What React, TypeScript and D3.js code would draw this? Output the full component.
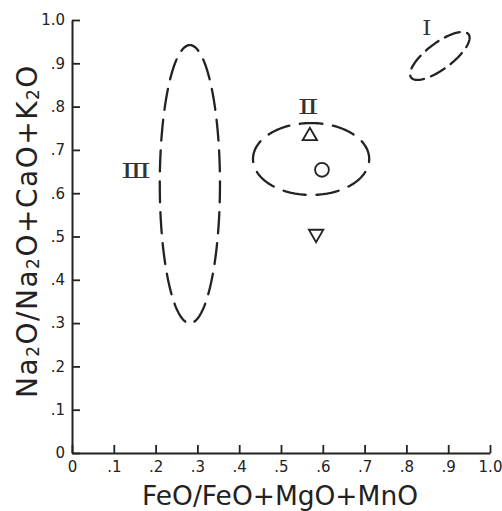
import React, { useEffect, useRef } from 'react';
import * as d3 from 'd3';

// axis ticks
const xTicks = [0, 0.1, 0.2, 0.3, 0.4, 0.5, 0.6, 0.7, 0.8, 0.9, 1.0];
const xTickLabels = ['0', '.1', '.2', '.3', '.4', '.5', '.6', '.7', '.8', '.9', '1.0'];
const yTicks = [0, 0.1, 0.2, 0.3, 0.4, 0.5, 0.6, 0.7, 0.8, 0.9, 1.0];
const yTickLabels = ['0', '.1', '.2', '.3', '.4', '.5', '.6', '.7', '.8', '.9', '1.0'];

// fields (dashed ellipses), data units
const fieldNames = ['Ⅰ', 'Ⅱ', 'Ⅲ'];
const fieldCx = [0.880, 0.572, 0.282];
const fieldCy = [0.917, 0.679, 0.621];
const fieldRx = [0.086, 0.139, 0.072];
const fieldRy = [0.030, 0.083, 0.321];
const fieldAngle = [-37, 0, 0];
const fieldLabelX = [0.849, 0.565, 0.153];
const fieldLabelY = [0.982, 0.799, 0.651];

// single analyses
const pointX = [0.569, 0.598, 0.584];
const pointY = [0.732, 0.654, 0.506];
const pointShape = ['up', 'circle', 'down'];

const W = 502, H = 511;

const App = () => {
  const ref = useRef(null);

  useEffect(() => {
    const svg = d3.select(ref.current);
    svg.selectAll('*').remove();

    const x = d3.scaleLinear().domain([0, 1]).range([72, 490]);
    const y = d3.scaleLinear().domain([0, 1]).range([453, 20]);
    const font = 'DejaVu Sans, sans-serif';

    // x axis
    const gx = svg.append('g')
      .attr('transform', 'translate(0,' + y(0) + ')')
      .call(d3.axisBottom(x).tickValues(xTicks)
        .tickFormat((d, i) => xTickLabels[i])
        .tickSizeInner(-8).tickSizeOuter(0).tickPadding(8));

    // y axis
    const gy = svg.append('g')
      .attr('transform', 'translate(' + x(0) + ',0)')
      .call(d3.axisLeft(y).tickValues(yTicks)
        .tickFormat((d, i) => yTickLabels[i])
        .tickSizeInner(-8).tickSizeOuter(0).tickPadding(7));

    [gx, gy].forEach(g => {
      g.select('.domain').attr('stroke', '#222').attr('stroke-width', 2);
      g.selectAll('.tick line').attr('stroke', '#222').attr('stroke-width', 1.8);
      g.selectAll('.tick text').attr('fill', '#222')
        .style('font-family', font).style('font-size', '15px');
    });

    // dashed fields: whole number of dash periods, odd so the bottom falls in a gap
    const periods = [7, 9, 19];
    const labelLen = [9, 21, 30];
    fieldNames.forEach((name, i) => {
      const cx = x(fieldCx[i]), cy = y(fieldCy[i]);
      const a = x(fieldRx[i]) - x(0), b = y(0) - y(fieldRy[i]);
      const r = fieldAngle[i] * Math.PI / 180;
      const pts = d3.range(0, 361, 2).map(deg => {
        const t = -Math.PI / 2 + deg * Math.PI / 180;
        const ex = a * Math.cos(t), ey = b * Math.sin(t);
        return [cx + ex * Math.cos(r) - ey * Math.sin(r), cy + ex * Math.sin(r) + ey * Math.cos(r)];
      });
      const p = svg.append('path')
        .attr('d', d3.line()(pts))
        .attr('fill', 'none')
        .attr('stroke', '#222')
        .attr('stroke-width', 2.3)
        .attr('stroke-linecap', 'round');
      const L = p.node().getTotalLength();
      const per = L / periods[i];
      const dl = per * 0.68;
      p.attr('stroke-dasharray', dl + ' ' + (per - dl))
        .attr('stroke-dashoffset', dl / 2);

      svg.append('text')
        .attr('x', x(fieldLabelX[i]))
        .attr('y', y(fieldLabelY[i]))
        .attr('text-anchor', 'middle')
        .attr('dominant-baseline', 'central')
        .attr('fill', '#333')
        .attr('textLength', labelLen[i])
        .attr('lengthAdjust', 'spacingAndGlyphs')
        .style('font-family', 'DejaVu Serif, serif')
        .style('font-size', '21px')
        .text(name);
    });

    // point symbols
    pointShape.forEach((s, i) => {
      const sym = s === 'circle'
        ? d3.symbol(d3.symbolCircle, 150)
        : d3.symbol(d3.symbolTriangle, 90);
      svg.append('path')
        .attr('d', sym())
        .attr('transform', 'translate(' + x(pointX[i]) + ',' + y(pointY[i]) + ')' + (s === 'down' ? ' rotate(180)' : ''))
        .attr('fill', 'none')
        .attr('stroke', '#222')
        .attr('stroke-width', 1.8);
    });

    // axis titles
    svg.append('text')
      .attr('x', 280).attr('y', 505)
      .attr('text-anchor', 'middle')
      .attr('fill', '#222')
      .attr('textLength', 276)
      .attr('lengthAdjust', 'spacingAndGlyphs')
      .style('font-family', font).style('font-size', '27px')
      .text('FeO/FeO+MgO+MnO');

    const yt = svg.append('text')
      .attr('transform', 'translate(37,231) rotate(-90)')
      .attr('text-anchor', 'middle')
      .attr('fill', '#222')
      .style('font-family', font).style('font-size', '28px')
      .style('letter-spacing', '1.5px');
    const parts = [['Na', 0], ['2', 1], ['O/Na', 0], ['2', 1], ['O+CaO+K', 0], ['2', 1], ['O', 0]];
    parts.forEach(([t, sub], k) => {
      const prevSub = k > 0 && parts[k - 1][1];
      yt.append('tspan')
        .attr('dy', sub ? 2 : (prevSub ? -2 : 0))
        .style('font-size', sub ? '17px' : '28px')
        .text(t);
    });
  }, []);

  return (
    <svg ref={ref} width={W} height={H}
      style={{ position: 'absolute', left: 0, top: 0, background: '#fff' }} />
  );
};

export default App;
